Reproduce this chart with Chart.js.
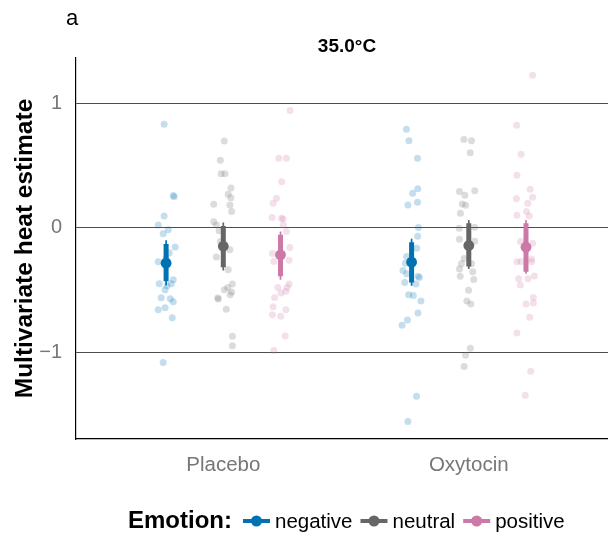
<!DOCTYPE html>
<html><head><meta charset="utf-8">
<script src="https://cdn.jsdelivr.net/npm/chart.js@4.4.1/dist/chart.umd.min.js"></script>
<style>html,body{margin:0;padding:0;background:#fff}canvas{display:block}</style>
</head><body>
<canvas id="c" width="608" height="538"></canvas>
<script>
// ---------- data ----------
const conditions = ['Placebo', 'Oxytocin'];
const emotions = ['negative', 'neutral', 'positive'];
const yTicks = [-1, 0, 1];
const panelTag = 'a';
const panelTitle = '35.0°C';
const yAxisTitle = 'Multivariate heat estimate';
const legendTitle = 'Emotion:';

// individual estimates (y) and their horizontal jitter (category units)
const placeboNegative = [0.835,0.26,0.25,0.096,0.024,-0.016,-0.048,-0.153,-0.273,-0.2,-0.24,-0.45,-0.466,-0.45,-0.418,-0.498,-0.562,-0.57,-0.594,-0.659,-0.643,-0.723,-1.084];
const placeboNegativeJitter = [-0.008,0.029,0.033,-0.008,-0.032,0.009,-0.012,0.037,-0.032,0.013,0.0,-0.028,0.004,0.021,0.029,-0.004,-0.02,0.017,0.029,-0.032,-0.004,0.025,-0.012];

const placeboNeutral = [0.699,0.544,0.436,0.436,0.321,0.27,0.243,0.185,0.19,0.131,0.05,0.024,-0.024,-0.11,-0.177,-0.235,-0.337,-0.452,-0.48,-0.498,-0.538,-0.517,-0.565,-0.572,-0.656,-0.873,-0.95];
const placeboNeutralJitter = [0.004,-0.012,-0.009,0.007,0.031,0.02,0.031,0.027,-0.039,0.034,-0.039,-0.028,-0.017,-0.012,0.027,-0.028,0.02,0.037,0.018,0.004,0.028,0.034,-0.023,-0.02,0.012,0.037,0.037];

const placeboPositive = [0.945,0.56,0.56,0.372,0.238,0.198,0.083,0.078,0.072,0.024,-0.03,-0.158,-0.206,-0.27,-0.26,-0.48,-0.452,-0.48,-0.51,-0.525,-0.56,-0.635,-0.7,-0.712,-0.659,-0.87,-0.988];
const placeboPositiveJitter = [0.039,-0.007,0.024,0.005,-0.016,-0.03,-0.034,0.004,0.011,0.011,0.024,0.038,-0.033,-0.027,0.035,-0.011,0.035,0.027,0.022,0.002,-0.024,-0.03,-0.033,0.001,0.022,0.019,-0.027];

const oxytocinNegative = [0.795,0.701,0.56,0.316,0.279,0.185,0.206,0.003,-0.067,-0.163,-0.23,-0.284,-0.343,-0.37,-0.439,-0.39,-0.4,-0.452,-0.538,-0.544,-0.589,-0.685,-0.741,-0.785,-1.355,-1.56];
const oxytocinNegativeJitter = [-0.021,-0.011,0.024,0.025,0.004,-0.015,0.024,0.028,0.025,0.021,-0.02,-0.025,-0.035,-0.02,-0.028,0.026,0.032,0.018,-0.012,0.007,0.038,0.026,-0.017,-0.039,0.02,-0.015];

const oxytocinNeutral = [0.712,0.701,0.605,0.292,0.3,0.263,0.193,0.182,0.118,-0.003,0.005,-0.091,-0.107,-0.246,-0.289,-0.332,-0.289,-0.353,-0.39,-0.415,-0.503,-0.589,-0.613,-0.969,-1.025,-1.116];
const oxytocinNeutralJitter = [-0.02,0.011,0.006,-0.038,0.024,-0.016,-0.027,-0.013,-0.034,-0.039,0.024,-0.038,0.024,-0.019,-0.03,-0.038,0.011,0.016,-0.035,0.02,-0.001,-0.008,0.008,0.006,-0.013,-0.019];

const oxytocinPositive = [1.229,0.827,0.592,0.423,0.311,0.247,0.235,0.198,0.131,0.096,0.102,-0.11,-0.123,-0.273,-0.27,-0.25,-0.273,-0.41,-0.46,-0.41,-0.388,-0.56,-0.605,-0.613,-0.72,-0.846,-1.154,-1.347];
const oxytocinPositiveJitter = [0.027,-0.038,-0.02,-0.037,0.017,0.027,-0.039,0.007,0.002,0.013,-0.037,-0.022,0.027,-0.037,-0.02,0.023,0.023,-0.03,-0.023,0.008,0.034,0.03,0.03,0.0,0.015,-0.037,0.019,-0.003];

// summaries per emotion: [Placebo, Oxytocin]
const meanNegative = [-0.284, -0.276];
const meanNeutral  = [-0.148, -0.142];
const meanPositive = [-0.217, -0.155];
// 66% intervals [low, high]
const inner66Negative = [[-0.43, -0.13], [-0.44, -0.115]];
const inner66Neutral  = [[-0.316, 0.016], [-0.311, 0.038]];
const inner66Positive = [[-0.39, -0.056], [-0.353, 0.038]];
// 95% intervals [low, high]
const outer95Negative = [[-0.463, -0.10], [-0.466, -0.088]];
const outer95Neutral  = [[-0.343, 0.043], [-0.332, 0.064]];
const outer95Positive = [[-0.418, -0.03], [-0.37, 0.064]];

// ---------- assembly ----------
const FAM = "'Liberation Sans', Arial, Helvetica, sans-serif";
const colors = ['#0072B2', '#666666', '#CC79A7'];
const faint = ['rgba(0,114,178,0.23)', 'rgba(102,102,102,0.23)', 'rgba(204,121,167,0.23)'];
const DODGE = 0.233;

const raw = {
  negative: [[placeboNegative, placeboNegativeJitter], [oxytocinNegative, oxytocinNegativeJitter]],
  neutral:  [[placeboNeutral, placeboNeutralJitter], [oxytocinNeutral, oxytocinNeutralJitter]],
  positive: [[placeboPositive, placeboPositiveJitter], [oxytocinPositive, oxytocinPositiveJitter]]
};
const means = { negative: meanNegative, neutral: meanNeutral, positive: meanPositive };
const inner = { negative: inner66Negative, neutral: inner66Neutral, positive: inner66Positive };
const outer = { negative: outer95Negative, neutral: outer95Neutral, positive: outer95Positive };

const datasets = [];
emotions.forEach((emo, k) => {
  const off = (k - 1) * DODGE;
  const pts = [];
  raw[emo].forEach(([vals, jit], ci) => {
    vals.forEach((v, i) => pts.push({ x: ci + 1 + off + jit[i], y: v }));
  });
  datasets.push({ type: 'scatter', label: emo + ' obs', data: pts, order: 3,
    pointRadius: 3.5, pointBackgroundColor: faint[k], pointBorderWidth: 0, pointHoverRadius: 3.5 });

  const seg = (arr) => {
    const d = [];
    arr.forEach(([lo, hi], ci) => {
      if (ci > 0) d.push({ x: ci + 1 + off, y: null });
      d.push({ x: ci + 1 + off, y: lo }, { x: ci + 1 + off, y: hi });
    });
    return d;
  };
  datasets.push({ type: 'line', label: emo + ' 95', data: seg(outer[emo]), order: 2,
    borderColor: colors[k], borderWidth: 1.7, pointRadius: 0, spanGaps: false, borderCapStyle: 'butt', tension: 0 });
  datasets.push({ type: 'line', label: emo + ' 66', data: seg(inner[emo]), order: 1,
    borderColor: colors[k], borderWidth: 5, pointRadius: 0, spanGaps: false, borderCapStyle: 'butt', tension: 0 });
  datasets.push({ type: 'scatter', label: emo, data: means[emo].map((m, ci) => ({ x: ci + 1 + off, y: m })), order: 0,
    pointRadius: 5.4, pointBackgroundColor: colors[k], pointBorderWidth: 0, pointHoverRadius: 5.4 });
});

const decor = {
  id: 'decor',
  afterDraw(chart) {
    const ctx = chart.ctx;
    ctx.save();
    ctx.fillStyle = '#000';
    ctx.textAlign = 'left';
    ctx.textBaseline = 'alphabetic';
    ctx.font = '22px ' + FAM;
    ctx.fillText(panelTag, 66, 25);
    ctx.font = 'bold 19px ' + FAM;
    ctx.textAlign = 'center';
    ctx.fillText(panelTitle, 347, 52);

    // legend
    const yc = 521;
    ctx.textAlign = 'left';
    ctx.textBaseline = 'middle';
    ctx.font = 'bold 24px ' + FAM;
    ctx.fillText(legendTitle, 128, yc);
    let x = 128 + ctx.measureText(legendTitle).width + 11;
    emotions.forEach((emo, k) => {
      ctx.strokeStyle = colors[k];
      ctx.lineWidth = 4;
      ctx.beginPath(); ctx.moveTo(x, yc); ctx.lineTo(x + 27, yc); ctx.stroke();
      ctx.fillStyle = colors[k];
      ctx.beginPath(); ctx.arc(x + 13.5, yc, 5.5, 0, Math.PI * 2); ctx.fill();
      x += 32;
      ctx.font = '20.5px ' + FAM;
      ctx.fillStyle = '#000';
      ctx.fillText(emo, x, yc + 1);
      x += ctx.measureText(emo).width + 8;
    });
    ctx.restore();
  }
};

new Chart(document.getElementById('c'), {
  type: 'scatter',
  data: { datasets },
  options: {
    responsive: false,
    animation: false,
    events: [],
    layout: { autoPadding: false, padding: { top: 58, right: 0, bottom: 0, left: 0 } },
    plugins: { legend: { display: false }, tooltip: { enabled: false }, title: { display: false } },
    scales: {
      x: {
        type: 'linear', min: 0.4, max: 2.567,
        afterBuildTicks: s => { s.ticks = [{ value: 1 }, { value: 2 }]; },
        afterFit: s => { s.height = 99; },
        grid: { display: false, drawTicks: false },
        border: { display: true, color: '#000', width: 1.2 },
        ticks: { color: '#777', font: { family: FAM, size: 20.5 }, padding: 14,
          callback: (v, i) => conditions[i] }
      },
      y: {
        type: 'linear', min: -1.70, max: 1.368,
        afterBuildTicks: s => { s.ticks = yTicks.map(v => ({ value: v })); },
        afterFit: s => { s.width = 76; },
        grid: { color: '#4d4d4d', lineWidth: 1, drawTicks: false },
        border: { display: true, color: '#000', width: 1.2 },
        ticks: { color: '#777', font: { family: FAM, size: 20 }, padding: 14,
          callback: v => v < 0 ? '\u2212' + Math.abs(v) : String(v) },
        title: { display: true, text: yAxisTitle, color: '#000',
          font: { family: FAM, size: 24.5, weight: 'bold' }, padding: { top: 11, bottom: 0 } }
      }
    }
  },
  plugins: [decor]
});
</script>
</body></html>
